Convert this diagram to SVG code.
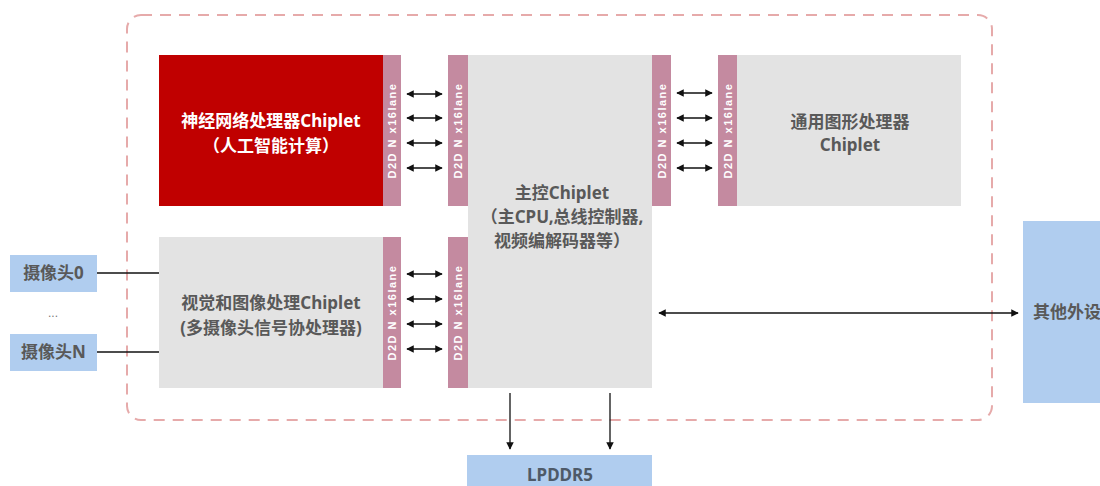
<svg xmlns="http://www.w3.org/2000/svg" width="1100" height="486" viewBox="0 0 1100 486">
<defs>
<marker id="ah" viewBox="0 0 10 10" refX="9" refY="5" markerWidth="7.5" markerHeight="7.5" markerUnits="userSpaceOnUse" orient="auto-start-reverse">
<path d="M0,0 L10,5 L0,10 z" fill="#111"/>
</marker>
<style>
.bar{fill:#c48aa0}
.gray{fill:#e3e3e3}
.blue{fill:#b0cdef}
.d2d{font-family:"Liberation Sans","Noto Sans",sans-serif;font-size:11px;font-weight:bold;fill:#fff;letter-spacing:1.5px;text-anchor:middle}
.t{font-family:"Noto Sans","Noto Sans CJK SC",sans-serif;font-size:17px;font-weight:bold;fill:#595959;text-anchor:middle}
.tw{fill:#fff}
.ln{stroke:#111;stroke-width:1.3;fill:none}
.dl{stroke:#111;stroke-width:1.3;fill:none;marker-start:url(#ah);marker-end:url(#ah)}
.sl{stroke:#111;stroke-width:1.3;fill:none;marker-end:url(#ah)}
</style>
</defs>
<rect id="boundary" x="127" y="15" width="865" height="405" rx="14" fill="none" stroke="#e6aaaa" stroke-width="2" stroke-dasharray="11 8"/>

<g id="npu">
<rect x="159" y="55" width="224" height="151" fill="#c00000"/>
<text class="t tw" x="271" y="127">神经网络处理器Chiplet</text>
<text class="t tw" x="271" y="152">（人工智能计算）</text>
<rect class="bar" x="383" y="55" width="18" height="151"/>
<text class="d2d" transform="translate(396,130.5) rotate(-90)">D2D N x16lane</text>
</g>

<g id="main">
<rect class="gray" x="468" y="55" width="184" height="333"/>
<text class="t" x="562" y="199">主控Chiplet</text>
<text class="t" x="562" y="223">（主CPU,总线控制器,</text>
<text class="t" x="562" y="247">视频编解码器等）</text>
<rect class="bar" x="448" y="55" width="20" height="151"/>
<text class="d2d" transform="translate(462,130.5) rotate(-90)">D2D N x16lane</text>
<rect class="bar" x="448" y="237" width="20" height="151"/>
<text class="d2d" transform="translate(462,312.5) rotate(-90)">D2D N x16lane</text>
<rect class="bar" x="652" y="55" width="19" height="151"/>
<text class="d2d" transform="translate(665.5,130.5) rotate(-90)">D2D N x16lane</text>
</g>

<g id="gpu">
<rect class="gray" x="737" y="55" width="224" height="151"/>
<text class="t" x="850" y="128">通用图形处理器</text>
<text class="t" x="850" y="151">Chiplet</text>
<rect class="bar" x="718" y="55" width="19" height="151"/>
<text class="d2d" transform="translate(731.5,130.5) rotate(-90)">D2D N x16lane</text>
</g>

<g id="vision">
<rect class="gray" x="159" y="237" width="224" height="151"/>
<text class="t" x="271" y="309">视觉和图像处理Chiplet</text>
<text class="t" x="271" y="334">(多摄像头信号协处理器)</text>
<rect class="bar" x="383" y="237" width="18" height="151"/>
<text class="d2d" transform="translate(396,312.5) rotate(-90)">D2D N x16lane</text>
</g>

<g id="cam0">
<rect class="blue" x="10" y="255" width="87" height="37"/>
<text class="t" x="53.5" y="279">摄像头0</text>
</g>
<g id="camdots">
<text x="53" y="317" font-family="Liberation Sans,sans-serif" font-size="12" fill="#777" text-anchor="middle">...</text>
</g>
<g id="camN">
<rect class="blue" x="10" y="334" width="87" height="37"/>
<text class="t" x="53.5" y="358">摄像头N</text>
</g>

<g id="periph">
<rect class="blue" x="1023" y="221" width="90" height="182"/>
<text class="t" x="1033" y="318" style="text-anchor:start">其他外设</text>
</g>

<g id="lpddr">
<rect class="blue" x="467" y="455" width="185" height="35"/>
<text class="t" x="560" y="481" style="fill:#4e5a68">LPDDR5</text>
</g>

<g id="connectors">
<line class="dl" x1="407" y1="94" x2="442" y2="94"/>
<line class="dl" x1="407" y1="118" x2="442" y2="118"/>
<line class="dl" x1="407" y1="143" x2="442" y2="143"/>
<line class="dl" x1="407" y1="168" x2="442" y2="168"/>
<line class="dl" x1="407" y1="274" x2="442" y2="274"/>
<line class="dl" x1="407" y1="299" x2="442" y2="299"/>
<line class="dl" x1="407" y1="324" x2="442" y2="324"/>
<line class="dl" x1="407" y1="349" x2="442" y2="349"/>
<line class="dl" x1="677" y1="93" x2="712" y2="93"/>
<line class="dl" x1="677" y1="118" x2="712" y2="118"/>
<line class="dl" x1="677" y1="143" x2="712" y2="143"/>
<line class="dl" x1="677" y1="168" x2="712" y2="168"/>
<line class="dl" x1="659" y1="313" x2="1018" y2="313"/>
<line class="sl" x1="510" y1="393" x2="510" y2="449"/>
<line class="sl" x1="610" y1="393" x2="610" y2="449"/>
<line class="ln" x1="97" y1="273" x2="159" y2="273"/>
<line class="ln" x1="97" y1="352" x2="159" y2="352"/>
</g>
</svg>
